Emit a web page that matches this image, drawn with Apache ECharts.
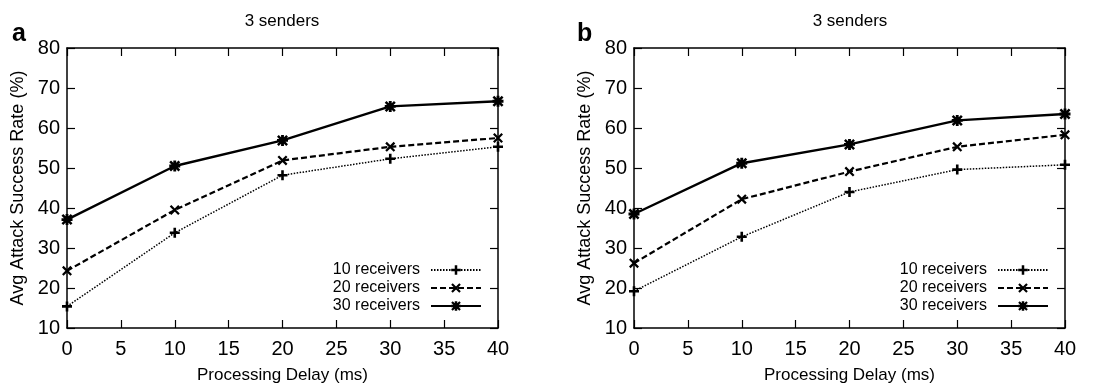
<!DOCTYPE html>
<html>
<head>
<meta charset="utf-8">
<script src="https://cdn.jsdelivr.net/npm/echarts@6/dist/echarts.min.js"></script>
<style>
  html, body { margin: 0; padding: 0; background: #fff; }
  #main { width: 1117px; height: 389px; }
</style>
</head>
<body>
<div id="main"></div>
<script>
var delays = [0, 10, 20, 30, 40];
var seriesNames = ['10 receivers', '20 receivers', '30 receivers'];
// panel a
var a10 = [15.4, 33.8, 48.2, 52.3, 55.3];
var a20 = [24.3, 39.5, 51.9, 55.3, 57.5];
var a30 = [37.1, 50.5, 56.9, 65.4, 66.7];
// panel b
var b10 = [19.2, 32.8, 44.0, 49.6, 50.8];
var b20 = [26.2, 42.2, 49.1, 55.3, 58.3];
var b30 = [38.5, 51.2, 55.9, 61.9, 63.5];

var FONT = 'Liberation Sans';

// point shapes, gnuplot style (all sub paths same winding so overlaps stay filled)
var plusPath = 'path://M0,3.7 L10,3.7 L10,6.3 L0,6.3 Z M3.7,0 L6.3,0 L6.3,10 L3.7,10 Z';
var crossPath = 'path://M0,1.6 L1.6,0 L10,8.4 L8.4,10 Z M8.4,0 L10,1.6 L1.6,10 L0,8.4 Z';
var starPath = 'path://M0,3.7 L10,3.7 L10,6.3 L0,6.3 Z M3.7,0 L6.3,0 L6.3,10 L3.7,10 Z M0,1.6 L1.6,0 L10,8.4 L8.4,10 Z M8.4,0 L10,1.6 L1.6,10 L0,8.4 Z';

var styles = [
    {symbol: plusPath, size: 10, line: {type: [1.5, 1.5], width: 1.5}},
    {symbol: crossPath, size: 10, line: {type: [6, 3], width: 2.2}},
    {symbol: starPath, size: 11, line: {type: 'solid', width: 2.4}}
];

function pairs(vals){
    return delays.map(function(d, i){ return [d, vals[i]]; });
}

function mkSeries(vals, idx, axisIdx){
    var st = styles[idx];
    return {
        name: seriesNames[idx],
        type: 'line',
        xAxisIndex: axisIdx,
        yAxisIndex: axisIdx,
        data: pairs(vals),
        symbol: st.symbol,
        symbolSize: st.size,
        showAllSymbol: true,
        itemStyle: {color: '#000'},
        lineStyle: {color: '#000', width: st.line.width, type: st.line.type},
        animation: false,
        z: 3 + idx
    };
}

// main (labelled) axes + mirror axes for gnuplot-like box ticks
function xAxes(grid){
    var base = {
        type: 'value', gridIndex: grid, min: 0, max: 40, interval: 5,
        splitLine: {show: false},
        axisLine: {onZero: false, lineStyle: {color: '#000', width: 1.5}},
        axisTick: {inside: true, length: 8, lineStyle: {color: '#000', width: 1.2}}
    };
    return [
        Object.assign({}, base, {
            position: 'bottom',
            axisLabel: {color: '#000', fontSize: 20, fontFamily: FONT, margin: 11},
            name: 'Processing Delay (ms)', nameLocation: 'middle', nameGap: 39,
            nameTextStyle: {color: '#000', fontSize: 17, fontFamily: FONT}
        }),
        Object.assign({}, base, {position: 'top', axisLabel: {show: false}})
    ];
}
function yAxes(grid){
    var base = {
        type: 'value', gridIndex: grid, min: 10, max: 80, interval: 10,
        splitLine: {show: false},
        axisLine: {show: true, onZero: false, lineStyle: {color: '#000', width: 1.5}},
        axisTick: {show: true, inside: true, length: 8, lineStyle: {color: '#000', width: 1.2}}
    };
    return [
        Object.assign({}, base, {
            position: 'left',
            axisLabel: {color: '#000', fontSize: 20, fontFamily: FONT, margin: 7},
            name: 'Avg Attack Success Rate (%)', nameLocation: 'middle', nameGap: 40,
            nameTextStyle: {color: '#000', fontSize: 18, fontFamily: FONT}
        }),
        Object.assign({}, base, {position: 'right', axisLabel: {show: false}})
    ];
}

function legendFor(right){
    return {
        data: seriesNames,
        orient: 'vertical',
        align: 'right',
        right: right,
        top: 256,
        itemWidth: 50,
        itemHeight: 12,
        itemGap: 0,
        selectedMode: false,
        textStyle: {color: '#000', fontSize: 16, lineHeight: 18, fontFamily: FONT, padding: [0, 6, 0, 0]}
    };
}

var option = {
    backgroundColor: '#fff',
    animation: false,
    title: [
        {text: '3 senders', left: 277, top: 8, textAlign: 'center',
         textStyle: {fontSize: 17, fontWeight: 'normal', color: '#000', fontFamily: FONT}},
        {text: '3 senders', left: 845, top: 8, textAlign: 'center',
         textStyle: {fontSize: 17, fontWeight: 'normal', color: '#000', fontFamily: FONT}},
        {text: 'a', left: 7, top: 17,
         textStyle: {fontSize: 25, fontWeight: 'bold', color: '#000', fontFamily: FONT}},
        {text: 'b', left: 572, top: 17,
         textStyle: {fontSize: 25, fontWeight: 'bold', color: '#000', fontFamily: FONT}}
    ],
    grid: [
        {left: 67, right: 619, top: 48, bottom: 56},
        {left: 634, right: 52, top: 48, bottom: 56}
    ],
    xAxis: xAxes(0).concat(xAxes(1)),
    yAxis: yAxes(0).concat(yAxes(1)),
    legend: [legendFor(630), legendFor(63)],
    series: [
        mkSeries(a10, 0, 0), mkSeries(a20, 1, 0), mkSeries(a30, 2, 0),
        mkSeries(b10, 0, 2), mkSeries(b20, 1, 2), mkSeries(b30, 2, 2)
    ]
};

var myChart = echarts.init(document.getElementById('main'));
myChart.setOption(option);
</script>
</body>
</html>
